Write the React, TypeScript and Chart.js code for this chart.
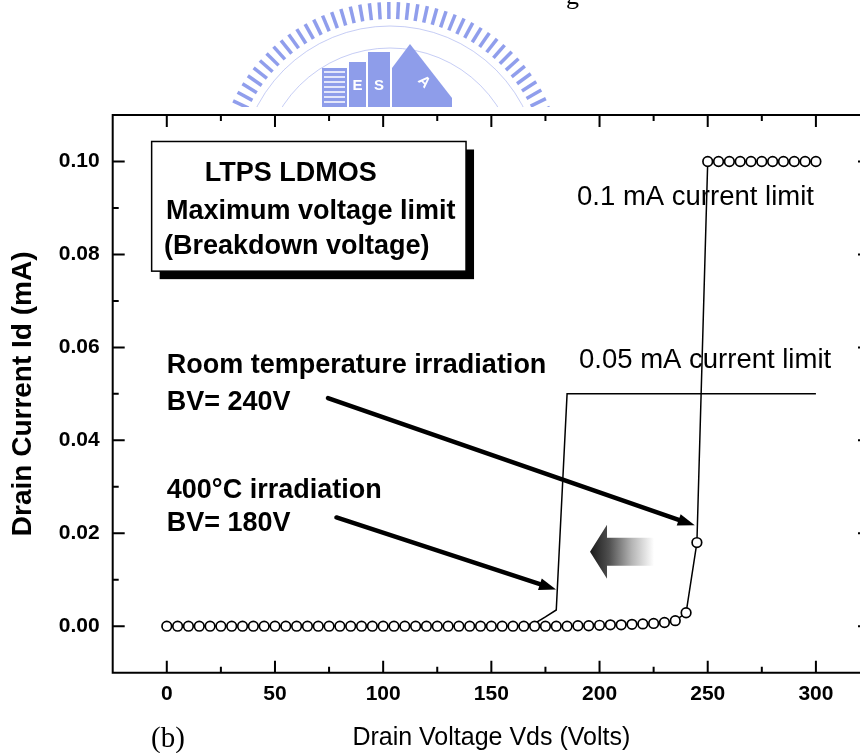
import { useEffect, useRef } from 'react';
import { Chart, registerables } from 'chart.js';

Chart.register(...registerables);

// Drain voltage sweep (V)
const drainVoltage = [
  0, 5, 10, 15, 20, 25, 30, 35, 40, 45,
  50, 55, 60, 65, 70, 75, 80, 85, 90, 95,
  100, 105, 110, 115, 120, 125, 130, 135, 140, 145,
  150, 155, 160, 165, 170, 175, 180, 185, 190, 195,
  200, 205, 210, 215, 220, 225, 230, 235, 240, 245,
  250, 255, 260, 265, 270, 275, 280, 285, 290, 295,
  300,
];

// Drain current (mA), room temperature irradiation, 0.1 mA compliance
const roomTempCurrent = [
  0, 0, 0, 0, 0, 0, 0, 0, 0, 0,
  0, 0, 0, 0, 0, 0, 0, 0, 0, 0,
  0, 0, 0, 0, 0, 0, 0, 0, 0, 0,
  0, 0, 0, 0, 0, 0, 0, 0, 0.0001, 0.0001,
  0.0002, 0.0003, 0.0003, 0.0004, 0.0005, 0.0006, 0.0008, 0.0012, 0.0029, 0.018,
  0.1, 0.1, 0.1, 0.1, 0.1, 0.1, 0.1, 0.1, 0.1, 0.1,
  0.1,
];

// Drain current (mA), 400 °C irradiation, 0.05 mA compliance
const hotIrradiationCurrent = [
  0, 0, 0, 0, 0, 0, 0, 0, 0, 0,
  0, 0, 0, 0, 0, 0, 0, 0, 0, 0,
  0, 0, 0, 0, 0, 0, 0, 0, 0, 0,
  0, 0, 0, 0.0002, 0.0006, 0.002, 0.0035, 0.05, 0.05, 0.05,
  0.05, 0.05, 0.05, 0.05, 0.05, 0.05, 0.05, 0.05, 0.05, 0.05,
  0.05, 0.05, 0.05, 0.05, 0.05, 0.05, 0.05, 0.05, 0.05, 0.05,
  0.05,
];

const xMajorTicks = [0, 50, 100, 150, 200, 250, 300];
const xMinorTicks = [25, 75, 125, 175, 225, 275];
const yMajorTicks = [0, 0.02, 0.04, 0.06, 0.08, 0.1];
const yMinorTicks = [0.01, 0.03, 0.05, 0.07, 0.09];

const boxLines = ['LTPS LDMOS', 'Maximum voltage limit', '(Breakdown voltage)'];

const SANS = '"Liberation Sans", Arial, Helvetica, sans-serif';
const SERIF = '"Liberation Serif", "Times New Roman", serif';

// the plot frame runs slightly past the right edge of the canvas
const PLOT_RIGHT = 870;

type Pt = [number, number];

function drawArrow(ctx: CanvasRenderingContext2D, from: Pt, to: Pt, width: number, headLen: number, headHalf: number) {
  const ang = Math.atan2(to[1] - from[1], to[0] - from[0]);
  const bx = to[0] - headLen * Math.cos(ang);
  const by = to[1] - headLen * Math.sin(ang);
  ctx.save();
  ctx.strokeStyle = '#000';
  ctx.fillStyle = '#000';
  ctx.lineWidth = width;
  ctx.lineCap = 'round';
  ctx.beginPath();
  ctx.moveTo(from[0], from[1]);
  ctx.lineTo(bx, by);
  ctx.stroke();
  ctx.beginPath();
  ctx.moveTo(to[0], to[1]);
  ctx.lineTo(bx + headHalf * Math.sin(ang), by - headHalf * Math.cos(ang));
  ctx.lineTo(bx - headHalf * Math.sin(ang), by + headHalf * Math.cos(ang));
  ctx.closePath();
  ctx.fill();
  ctx.restore();
}

// Institute emblem printed above the figure
function drawEmblem(ctx: CanvasRenderingContext2D) {
  ctx.save();
  ctx.beginPath();
  ctx.rect(0, 0, 860, 107);
  ctx.clip();
  const cx = 390;
  const cy = 176;
  ctx.strokeStyle = 'rgba(132,148,234,0.9)';
  ctx.lineWidth = 3.5;
  for (let a = 180; a <= 360; a += 3.2) {
    const t = (a * Math.PI) / 180;
    ctx.beginPath();
    ctx.moveTo(cx + 157 * Math.cos(t), cy + 157 * Math.sin(t));
    ctx.lineTo(cx + 174 * Math.cos(t), cy + 174 * Math.sin(t));
    ctx.stroke();
  }
  ctx.strokeStyle = 'rgba(160,172,238,0.6)';
  ctx.lineWidth = 1;
  ctx.beginPath();
  ctx.arc(cx, cy, 150, Math.PI, 2 * Math.PI);
  ctx.stroke();
  ctx.beginPath();
  ctx.arc(cx, cy, 128, Math.PI, 2 * Math.PI);
  ctx.stroke();

  const blue = '#8e9dea';
  // striped block
  ctx.fillStyle = blue;
  ctx.fillRect(322, 68, 25, 40);
  ctx.strokeStyle = '#fff';
  ctx.lineWidth = 1.5;
  for (let y = 72; y < 107; y += 5) {
    ctx.beginPath();
    ctx.moveTo(324, y);
    ctx.lineTo(345, y);
    ctx.stroke();
  }
  // E and S blocks
  ctx.fillStyle = blue;
  ctx.fillRect(349, 62, 17, 46);
  ctx.fillRect(368, 52, 22, 56);
  // A block
  ctx.beginPath();
  ctx.moveTo(392, 108);
  ctx.lineTo(392, 68);
  ctx.lineTo(410, 44);
  ctx.lineTo(452, 98);
  ctx.lineTo(452, 108);
  ctx.closePath();
  ctx.fill();
  ctx.fillStyle = '#fff';
  ctx.font = `bold 15px ${SANS}`;
  ctx.textAlign = 'center';
  ctx.textBaseline = 'middle';
  ctx.fillText('E', 357.5, 86);
  ctx.fillText('S', 379, 86);
  ctx.save();
  ctx.translate(424, 82);
  ctx.rotate(0.8);
  ctx.fillText('A', 0, 0);
  ctx.restore();
  ctx.restore();

  ctx.save();
  ctx.fillStyle = '#000';
  ctx.font = `26px ${SERIF}`;
  ctx.textBaseline = 'alphabetic';
  ctx.fillText('g', 566, 4);
  ctx.restore();
}

const figurePlugin = {
  id: 'figureDecorations',
  afterLayout(chart: any) {
    // stretch the horizontal axis so the frame's right edge sits just off the canvas
    const xs = chart.scales.x;
    xs.right = PLOT_RIGHT;
    xs.width = xs.right - xs.left;
    chart.chartArea.right = PLOT_RIGHT;
    chart.chartArea.width = PLOT_RIGHT - chart.chartArea.left;
    xs.configure();
  },
  beforeDraw(chart: any) {
    const ctx: CanvasRenderingContext2D = chart.ctx;
    ctx.save();
    ctx.fillStyle = '#fff';
    ctx.fillRect(0, 0, chart.width, chart.height);
    ctx.restore();
    drawEmblem(ctx);
  },
  beforeDatasetsDraw(chart: any) {
    const ctx: CanvasRenderingContext2D = chart.ctx;
    const xs = chart.scales.x;
    const ys = chart.scales.y;
    const at = (x: number, y: number): Pt => [xs.getPixelForValue(x), ys.getPixelForValue(y)];

    // framed caption with drop shadow
    const [bl, bt] = at(-7, 0.1043);
    const [br, bb] = at(138.3, 0.0764);
    ctx.save();
    ctx.fillStyle = '#000';
    ctx.fillRect(bl + 8, bt + 8, br - bl, bb - bt);
    ctx.fillStyle = '#fff';
    ctx.fillRect(bl, bt, br - bl, bb - bt);
    ctx.strokeStyle = '#000';
    ctx.lineWidth = 1.5;
    ctx.strokeRect(bl, bt, br - bl, bb - bt);

    ctx.fillStyle = '#000';
    ctx.textAlign = 'left';
    ctx.textBaseline = 'middle';
    ctx.font = `bold 27px ${SANS}`;
    const boxAnchors: Pt[] = [at(17.6, 0.0973), at(-0.4, 0.0893), at(-1.3, 0.0816)];
    boxLines.forEach((t, i) => ctx.fillText(t, boxAnchors[i][0], boxAnchors[i][1]));

    const bold: [string, Pt][] = [
      ['Room temperature irradiation', at(0, 0.056)],
      ['BV= 240V', at(0, 0.0482)],
      ['400\u00B0C irradiation', at(0, 0.0293)],
      ['BV= 180V', at(0, 0.0222)],
    ];
    bold.forEach(([t, p]) => ctx.fillText(t, p[0], p[1]));

    ctx.font = `27.5px ${SANS}`;
    const plain: [string, Pt][] = [
      ['0.1 mA current limit', at(189.6, 0.0923)],
      ['0.05 mA current limit', at(190.5, 0.0573)],
    ];
    plain.forEach(([t, p]) => ctx.fillText(t, p[0], p[1]));
    ctx.restore();
  },
  afterDatasetsDraw(chart: any) {
    const ctx: CanvasRenderingContext2D = chart.ctx;
    const xs = chart.scales.x;
    const ys = chart.scales.y;
    const { left, right, top, bottom } = chart.chartArea;
    const at = (x: number, y: number): Pt => [xs.getPixelForValue(x), ys.getPixelForValue(y)];

    // plot frame with inward ticks on all four sides
    ctx.save();
    ctx.strokeStyle = '#000';
    ctx.lineWidth = 2;
    ctx.lineCap = 'square';
    ctx.beginPath();
    ctx.moveTo(left, top);
    ctx.lineTo(right, top);
    ctx.moveTo(left, top);
    ctx.lineTo(left, bottom);
    ctx.lineTo(right, bottom);
    ctx.lineTo(right, top);
    ctx.stroke();
    ctx.lineCap = 'butt';
    const tickX = (vals: number[], len: number) => {
      vals.forEach((v) => {
        const px = xs.getPixelForValue(v);
        ctx.beginPath();
        ctx.moveTo(px, bottom);
        ctx.lineTo(px, bottom - len);
        ctx.moveTo(px, top);
        ctx.lineTo(px, top + len);
        ctx.stroke();
      });
    };
    const tickY = (vals: number[], len: number) => {
      vals.forEach((v) => {
        const py = ys.getPixelForValue(v);
        ctx.beginPath();
        ctx.moveTo(left, py);
        ctx.lineTo(left + len, py);
        ctx.moveTo(right, py);
        ctx.lineTo(right - len, py);
        ctx.stroke();
      });
    };
    tickX(xMajorTicks, 12);
    tickX(xMinorTicks, 6);
    tickY(yMajorTicks, 12);
    tickY(yMinorTicks, 6);
    ctx.restore();

    // pointer arrows to the breakdown points
    drawArrow(ctx, at(74.5, 0.0491), at(244.0, 0.0217), 4.5, 17, 6);
    drawArrow(ctx, at(78.4, 0.0234), at(179.9, 0.0079), 4.5, 17, 6);

    // shaded arrow showing the breakdown shift
    const [tx, ty] = at(195.6, 0.016);
    const grad = ctx.createLinearGradient(tx, 0, tx + 64, 0);
    grad.addColorStop(0, '#1a1a1a');
    grad.addColorStop(0.3, '#505050');
    grad.addColorStop(0.65, '#b4b4b4');
    grad.addColorStop(1, '#ffffff');
    ctx.save();
    ctx.fillStyle = grad;
    ctx.beginPath();
    ctx.moveTo(tx, ty);
    ctx.lineTo(tx + 17, ty - 27);
    ctx.lineTo(tx + 17, ty - 14);
    ctx.lineTo(tx + 64, ty - 14);
    ctx.lineTo(tx + 64, ty + 14);
    ctx.lineTo(tx + 17, ty + 14);
    ctx.lineTo(tx + 17, ty + 27);
    ctx.closePath();
    ctx.fill();
    ctx.restore();

    // panel label
    ctx.save();
    ctx.fillStyle = '#000';
    ctx.font = `29px ${SERIF}`;
    ctx.textAlign = 'left';
    ctx.textBaseline = 'middle';
    ctx.fillText('(b)', 151, 739);
    ctx.restore();
  },
};

export default function App() {
  const canvasRef = useRef<HTMLCanvasElement | null>(null);

  useEffect(() => {
    const canvas = canvasRef.current;
    if (!canvas) return;
    const chart = new Chart(canvas, {
      type: 'line',
      data: {
        datasets: [
          {
            label: 'Room temperature irradiation',
            data: drainVoltage.map((v, i) => ({ x: v, y: roomTempCurrent[i] })),
            borderColor: '#000',
            borderWidth: 1.5,
            pointRadius: 4.8,
            pointBorderWidth: 1.7,
            pointBackgroundColor: '#fff',
            pointBorderColor: '#000',
            tension: 0,
            fill: false,
          },
          {
            label: '400\u00B0C irradiation',
            data: drainVoltage.map((v, i) => ({ x: v, y: hotIrradiationCurrent[i] })),
            borderColor: '#000',
            borderWidth: 1.5,
            pointRadius: 0,
            tension: 0,
            fill: false,
          },
        ],
      },
      options: {
        responsive: false,
        animation: false,
        devicePixelRatio: 1,
        events: [],
        layout: { padding: { top: 115, left: 0, right: 0, bottom: 0 } },
        plugins: { legend: { display: false }, tooltip: { enabled: false } },
        scales: {
          x: {
            type: 'linear',
            min: -25,
            max: 325,
            grid: { display: false, drawTicks: false },
            border: { display: false },
            afterBuildTicks: (s: any) => {
              s.ticks = xMajorTicks.map((v) => ({ value: v }));
            },
            afterFit: (s: any) => {
              s.height = 80.3;
            },
            ticks: {
              padding: 9,
              color: '#000',
              autoSkip: false,
              maxRotation: 0,
              font: { family: SANS, size: 21, weight: 'bold' },
              callback: (v: any) => String(v),
            },
            title: {
              display: true,
              text: 'Drain Voltage Vds (Volts)',
              color: '#000',
              font: { family: SANS, size: 25 },
              padding: { top: 0, bottom: 0 },
            },
          },
          y: {
            type: 'linear',
            min: -0.01,
            max: 0.11,
            grid: { display: false, drawTicks: false },
            border: { display: false },
            afterBuildTicks: (s: any) => {
              s.ticks = yMajorTicks.map((v) => ({ value: v }));
            },
            afterFit: (s: any) => {
              s.width = 112.7;
            },
            ticks: {
              padding: 13,
              color: '#000',
              autoSkip: false,
              font: { family: SANS, size: 21, weight: 'bold' },
              callback: (v: any) => Number(v).toFixed(2),
            },
            title: {
              display: true,
              text: 'Drain Current Id (mA)',
              color: '#000',
              font: { family: SANS, size: 28, weight: 'bold' },
              padding: { top: 6, bottom: 0 },
            },
          },
        },
      },
      plugins: [figurePlugin],
    } as any);
    return () => chart.destroy();
  }, []);

  return (
    <div style={{ position: 'absolute', left: 0, top: 0, width: 860, height: 753, background: '#fff', overflow: 'hidden' }}>
      <canvas ref={canvasRef} width={860} height={753} style={{ display: 'block', width: 860, height: 753 }} />
    </div>
  );
}
